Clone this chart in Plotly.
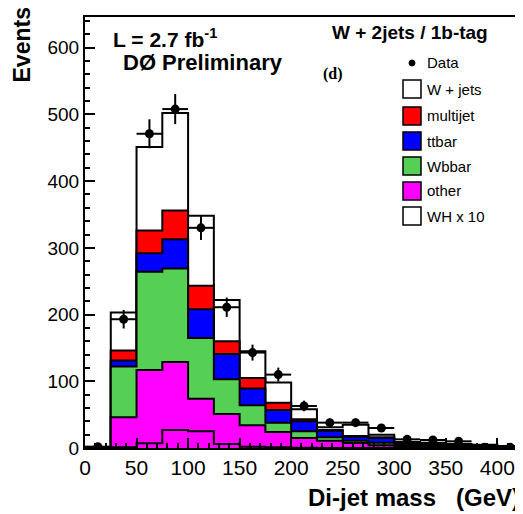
import numpy as np
import plotly.graph_objects as go

# ---------------- data ----------------
bin_edges = [0, 25, 50, 75, 100, 125, 150, 175, 200, 225, 250, 275, 300, 325, 350, 375, 400, 425]
other    = [0, 46, 117, 129, 74, 51, 34, 24, 15, 11, 7.5, 4, 3, 2, 1.5, 1, 1]
wbbar    = [0, 76, 147, 140, 91, 52, 30, 14, 10, 5, 3.5, 4, 2, 2, 1.5, 1, 0.5]
ttbar    = [0, 9, 28, 44, 43, 38, 25, 19, 15, 10, 6, 7, 1, 1, 1, 1, 0.5]
multijet = [0, 15, 34, 43, 35, 19, 16, 11, 3, 1, 1, 1, 1, 1, 0.5, 0.5, 0.5]
wjets    = [0, 57, 125, 146, 105, 62, 40, 30, 15, 4, 17, 4, 2, 2, 1.5, 1.5, 0.5]
wh_x10   = [0, 1, 7, 27, 25, 6, 2, 1, 0.5, 0, 0, 0, 0, 0, 0, 0, 0]
data     = [2, 193, 471, 508, 330, 211, 143, 110, 63, 38, 38, 30, 13, 12, 10, 1, 1]

legend_names = ["Data", "W + jets", "multijet", "ttbar", "Wbbar", "other", "WH x 10"]
legend_colors = [None, "#FFFFFF", "#FF0000", "#0000FF", "#55D055", "#FF00FF", "#FFFFFF"]

x_ticks = [0, 50, 100, 150, 200, 250, 300, 350, 400]
y_ticks = [0, 100, 200, 300, 400, 500, 600]

# ---------------- helpers ----------------
edges = np.array(bin_edges, dtype=float)
centers = 0.5 * (edges[:-1] + edges[1:])
halfw = 0.5 * (edges[1:] - edges[:-1])


def step_xy(vals):
    v = list(vals)
    xs = [edges[0]] + list(edges[:-1]) + [edges[-1], edges[-1]]
    ys = [0] + v + [v[-1], 0]
    return xs, ys


comps = [other, wbbar, ttbar, multijet, wjets]
cum = np.cumsum(np.array(comps, dtype=float), axis=0)
layer_colors = ["#FF00FF", "#55D055", "#0000FF", "#FF0000", "#FFFFFF"]

fig = go.Figure()
for i in range(4, -1, -1):
    xs, ys = step_xy(cum[i])
    fig.add_trace(go.Scatter(
        x=xs, y=ys, mode="lines", line=dict(shape="hv", color="black", width=2),
        fill="tozeroy", fillcolor=layer_colors[i], showlegend=False, hoverinfo="skip"))

xs, ys = step_xy(wh_x10)
fig.add_trace(go.Scatter(x=xs, y=ys, mode="lines",
                         line=dict(shape="hv", color="black", width=2),
                         showlegend=False, hoverinfo="skip"))

d = np.array(data, dtype=float)
fig.add_trace(go.Scatter(
    x=centers, y=d, mode="markers",
    marker=dict(color="black", size=9),
    error_y=dict(type="data", array=np.sqrt(d), color="black", thickness=2, width=0),
    error_x=dict(type="data", array=halfw, color="black", thickness=2, width=0),
    showlegend=False))

# ---------------- layout geometry ----------------
# page body has an 8px margin: work in screenshot pixels and shift by it
OFF = 8
L, R, T, B = 85, 520, 17, 448          # plot area in screenshot pixels
W, H = 523 - OFF, 514 - OFF


def px(xp):
    return (xp - L) / (R - L)


def py(yp):
    return (B - yp) / (B - T)


shapes = []
annotations = []
FONT = "Liberation Sans"

row_y = [63, 89, 116, 141, 166, 191, 216]
for name, col, yy in zip(legend_names, legend_colors, row_y):
    if col is None:
        shapes.append(dict(type="circle", xref="paper", yref="paper",
                           x0=px(409), x1=px(415), y0=py(yy + 3), y1=py(yy - 3),
                           fillcolor="black", line=dict(color="black", width=1)))
    else:
        shapes.append(dict(type="rect", xref="paper", yref="paper",
                           x0=px(403), x1=px(421), y0=py(yy + 9), y1=py(yy - 9),
                           fillcolor=col, line=dict(color="black", width=1.5)))
    annotations.append(dict(text=name, xref="paper", yref="paper", x=px(425), y=py(yy),
                            xanchor="left", yanchor="middle", showarrow=False,
                            font=dict(family=FONT, size=15, color="black")))

annotations += [
    dict(text="<b>L = 2.7 fb<sup>-1</sup></b>", xref="paper", yref="paper",
         x=px(111), y=py(38), xanchor="left", yanchor="middle", showarrow=False,
         font=dict(family=FONT, size=21, color="black")),
    dict(text="<b>DØ Preliminary</b>", xref="paper", yref="paper",
         x=px(121), y=py(62), xanchor="left", yanchor="middle", showarrow=False,
         font=dict(family=FONT, size=22, color="black")),
    dict(text="<b>W + 2jets / 1b-tag</b>", xref="paper", yref="paper",
         x=px(490), y=py(32), xanchor="right", yanchor="middle", showarrow=False,
         font=dict(family=FONT, size=19, color="black")),
    dict(text="<b>(d)</b>", xref="paper", yref="paper",
         x=px(333), y=py(74), xanchor="center", yanchor="middle", showarrow=False,
         font=dict(family="Liberation Serif", size=16, color="black")),
    dict(text="<b>Events</b>", xref="paper", yref="paper", textangle=-90,
         x=px(21), y=py(6), xanchor="center", yanchor="top", showarrow=False,
         font=dict(family=FONT, size=23, color="black")),
    dict(text="<b>Di-jet mass   (GeV)</b>", xref="paper", yref="paper",
         x=px(522), y=py(497), xanchor="right", yanchor="middle", showarrow=False,
         font=dict(family=FONT, size=24, color="black")),
]

fig.update_layout(
    width=W, height=H,
    margin=dict(l=L - OFF, r=W - (R - OFF), t=T - OFF, b=H - (B - OFF), pad=0),
    paper_bgcolor="white", plot_bgcolor="white",
    shapes=shapes, annotations=annotations,
    showlegend=False,
)
fig.update_xaxes(range=[0, 422], tickvals=x_ticks, ticktext=[str(v) for v in x_ticks],
                 ticks="inside", ticklen=10, tickwidth=1.5, tickcolor="black",
                 minor=dict(dtick=10, ticks="inside", ticklen=5, tickcolor="black"),
                 showline=True, linecolor="black", linewidth=2, mirror=True,
                 showgrid=False, zeroline=False, automargin=False,
                 tickfont=dict(family=FONT, size=21, color="black"))
fig.update_yaxes(range=[0, 646], tickvals=y_ticks, ticktext=[str(v) for v in y_ticks],
                 ticks="inside", ticklen=10, tickwidth=1.5, tickcolor="black",
                 minor=dict(dtick=20, ticks="inside", ticklen=5, tickcolor="black"),
                 showline=True, linecolor="black", linewidth=2, mirror=True,
                 showgrid=False, zeroline=False, automargin=False,
                 tickfont=dict(family=FONT, size=19, color="black"))

fig.write_html("out.html")
